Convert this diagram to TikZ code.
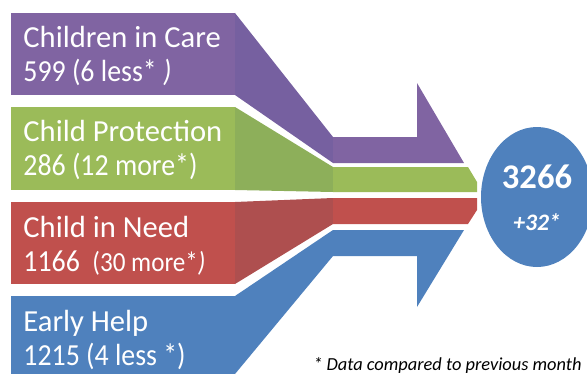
\documentclass[tikz,border=0pt]{standalone}
\usepackage{fontspec}
\usepackage{graphicx}
\setmainfont{Carlito}
\usetikzlibrary{shapes.geometric}
\definecolor{purpA}{HTML}{8064A2}
\definecolor{purpB}{HTML}{7660A0}
\definecolor{greenA}{HTML}{9BBB59}
\definecolor{greenB}{HTML}{8DAF5A}
\definecolor{redA}{HTML}{C0504D}
\definecolor{redB}{HTML}{AE4F4F}
\definecolor{blueA}{HTML}{4F81BD}
\newcommand{\narrowline}[1]{\scalebox{0.91}[1]{#1}}
\begin{document}
\begin{tikzpicture}[x=0.5pt,y=-0.5pt,
  lbl/.style={anchor=base west, text=white, inner sep=0, font=\fontsize{15.3}{18}\selectfont}]
\useasboundingbox (0,0) rectangle (587,374);
% purple stream
\fill[purpA] (11,13) rectangle (235,95);
\fill[purpB] (235,13) -- (333,137) -- (333,163) -- (235,95) -- cycle;
\fill[purpA] (333,137) -- (417,137) -- (417,83) -- (464,163) -- (333,163) -- cycle;
% green stream
\fill[greenA] (11,107) rectangle (235,190);
\fill[greenB] (235,107) -- (333,167) -- (333,192) -- (235,190) -- cycle;
\fill[greenA] (333,167) -- (468,167) -- (477,182) -- (477,192) -- (333,192) -- cycle;
% red stream
\fill[redA] (11,202) rectangle (235,284);
\fill[redB] (235,202) -- (333,198) -- (333,224) -- (235,284) -- cycle;
\fill[redA] (333,198) -- (477,198) -- (477,210) -- (468,224) -- (333,224) -- cycle;
% blue stream
\fill[blueA] (11,296) rectangle (235,374);
\fill[blueA] (235,296) -- (333,230) -- (333,256) -- (235,374) -- cycle;
\fill[blueA] (333,230) -- (464,230) -- (417,307) -- (417,256) -- (333,256) -- cycle;
% labels
\node[lbl] (care1) at (23,47) {Children in Care};
\node[lbl] (care2) at (23,82) {\narrowline{599 (6 less* \textit{)}}};
\node[lbl] (prot1) at (23,141) {Child Protection};
\node[lbl] (prot2) at (23,175) {\narrowline{286 (12 more*)}};
\node[lbl] (need1) at (23,237) {Child in Need};
\node[lbl] (need2) at (23,271) {\narrowline{1166\ \ {\fontsize{13.8}{16}\selectfont(30 more*\textit{)}}}};
\node[lbl] (help1) at (23,331) {Early Help};
\node[lbl] (help2) at (23,365) {\narrowline{1215 (4 less *)}};
% total
\node[ellipse, fill=blueA, minimum width=56pt, minimum height=70pt, inner sep=0] (total) at (537,197) {};
\node[anchor=base, text=white, inner sep=0, font=\bfseries\fontsize{17.3}{20}\selectfont] (num) at (537,188) {3266};
\node[anchor=base, text=white, inner sep=0, font=\bfseries\itshape\fontsize{11.8}{14}\selectfont] (chg) at (537,230) {+32*};
% footnote
\node[anchor=base east, inner sep=0, font=\itshape\fontsize{9.2}{11}\selectfont] (note) at (582,370) {* Data compared to previous month};
\end{tikzpicture}
\end{document}
